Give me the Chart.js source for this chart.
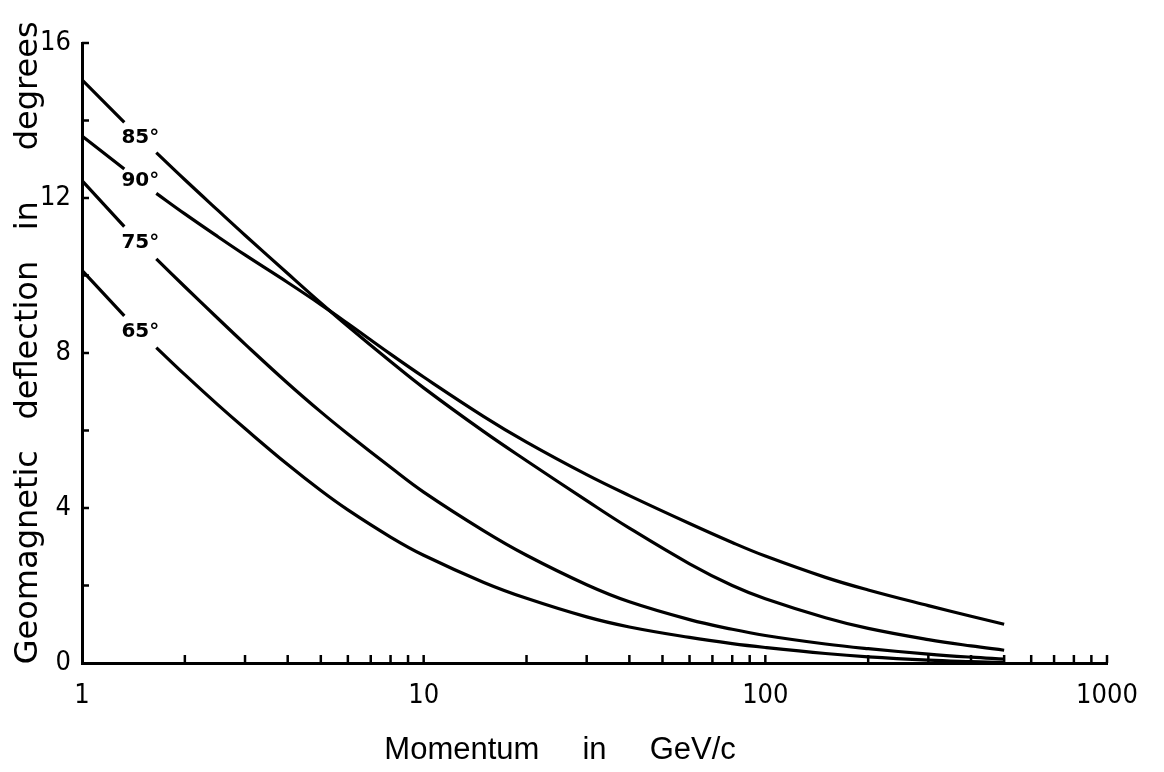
<!DOCTYPE html>
<html>
<head>
<meta charset="utf-8">
<script src="https://cdn.jsdelivr.net/npm/chart.js@4/dist/chart.umd.min.js"></script>
<style>
  html, body { margin: 0; padding: 0; background: #ffffff; }
  #wrap { width: 1164px; height: 772px; }
</style>
</head>
<body>
<div id="wrap"><canvas id="c" width="1164" height="772"></canvas></div>
<script>
// ---- data ----
const momentum = [1, 1.33, 1.5, 1.65, 2, 2.5, 3, 4, 5, 6, 8, 10, 15, 20, 30, 40, 60, 80, 100, 150, 200, 300, 400, 500];
const deflection85 = [15.05, 13.95, null, 13.17, 12.47, 11.68, 11.04, 10.05, 9.29, 8.69, 7.78, 7.10, 5.97, 5.22, 4.19, 3.48, 2.56, 2.0, 1.66, 1.17, 0.895, 0.605, 0.44, 0.33];
const deflection90 = [13.6, 12.75, null, 12.12, 11.59, 11.0, 10.53, 9.82, 9.25, 8.76, 7.97, 7.38, 6.36, 5.70, 4.86, 4.32, 3.6, 3.11, 2.76, 2.21, 1.885, 1.48, 1.205, 1.0];
const deflection75 = [12.45, 11.26, null, 10.43, 9.71, 8.89, 8.23, 7.22, 6.48, 5.91, 5.05, 4.41, 3.41, 2.78, 2.02, 1.58, 1.12, 0.87, 0.71, 0.49, 0.37, 0.23, 0.15, 0.10];
const deflection65 = [10.13, 8.96, null, 8.14, 7.44, 6.66, 6.05, 5.12, 4.45, 3.95, 3.25, 2.78, 2.08, 1.67, 1.19, 0.93, 0.66, 0.5, 0.4, 0.245, 0.16, 0.075, 0.035, 0.01];
const seriesLabels = ['85°', '90°', '75°', '65°'];
const xMajorTicks = [1, 10, 100, 1000];
const xMinorMultipliers = [2, 3, 4, 5, 6, 7, 8, 9];
const yTickLabels = [0, 4, 8, 12, 16];
const yTickStep = 2;
const xTitle = 'Momentum\u00a0\u00a0\u00a0\u00a0\u00a0in\u00a0\u00a0\u00a0\u00a0\u00a0GeV/c' + '\u00a0'.repeat(8);
const yTitle = '\u00a0\u00a0Geomagnetic\u00a0\u00a0\u00a0deflection\u00a0\u00a0\u00a0in\u00a0\u00a0\u00a0\u00a0\u00a0degrees';

// ---- tick values for the log axis ----
const xTickValues = [];
xMajorTicks.forEach((d, i) => {
  xTickValues.push(d);
  if (i < xMajorTicks.length - 1) xMinorMultipliers.forEach(m => xTickValues.push(d * m));
});

const allSeries = [deflection85, deflection90, deflection75, deflection65];
const datasets = allSeries.map((vals, i) => ({
  label: seriesLabels[i],
  data: momentum.map((p, j) => ({ x: p, y: vals[j] })),
  borderColor: '#000',
  borderWidth: 3.2,
  pointRadius: 0,
  fill: false,
  spanGaps: false,
  tension: 0.4
}));

const tickFont = { family: "'DejaVu Sans Condensed', 'Liberation Sans', sans-serif", size: 27 };

const innerTicks = {
  id: 'innerTicks',
  afterDraw(chart) {
    const ctx = chart.ctx;
    const xs = chart.scales.x, ys = chart.scales.y;
    const area = chart.chartArea;
    ctx.save();
    ctx.strokeStyle = '#000';
    ctx.lineWidth = 2.5;
    xTickValues.forEach(v => {
      if (v === 1) return;
      const px = xs.getPixelForValue(v);
      ctx.beginPath();
      ctx.moveTo(px, area.bottom);
      ctx.lineTo(px, area.bottom - 8);
      ctx.stroke();
    });
    for (let v = yTickStep; v <= 16; v += yTickStep) {
      const py = ys.getPixelForValue(v);
      ctx.beginPath();
      ctx.moveTo(area.left, py);
      ctx.lineTo(area.left + 7, py);
      ctx.stroke();
    }
    ctx.restore();
  }
};

const curveLabels = {
  id: 'curveLabels',
  afterDatasetsDraw(chart) {
    const ctx = chart.ctx;
    ctx.save();
    ctx.fillStyle = '#000';
    ctx.font = "bold 20px 'DejaVu Sans', sans-serif";
    ctx.textAlign = 'center';
    ctx.textBaseline = 'middle';
    chart.data.datasets.forEach((ds, i) => {
      const meta = chart.getDatasetMeta(i);
      const gap = ds.data.findIndex(d => d.y === null);
      if (gap < 1) return;
      const a = meta.data[gap - 1], b = meta.data[gap + 1];
      ctx.fillText(ds.label, (a.x + b.x) / 2, (a.y + b.y) / 2);
    });
    ctx.restore();
  }
};

new Chart(document.getElementById('c'), {
  type: 'line',
  data: { datasets },
  plugins: [innerTicks, curveLabels],
  options: {
    responsive: false,
    animation: false,
    devicePixelRatio: 1,
    layout: { padding: { top: 43, right: 57, left: 0, bottom: 0 } },
    plugins: { legend: { display: false }, tooltip: { enabled: false } },
    scales: {
      x: {
        type: 'logarithmic',
        min: 1,
        max: 1000,
        afterBuildTicks: s => { s.ticks = xTickValues.map(v => ({ value: v })); },
        afterFit: s => { s.height = 109; },
        grid: { display: false, drawTicks: false },
        border: { display: true, color: '#000', width: 3 },
        ticks: {
          autoSkip: false,
          maxRotation: 0,
          color: '#000',
          padding: 17,
          font: tickFont,
          callback: v => (xMajorTicks.includes(v) ? String(v) : '')
        },
        title: {
          display: true,
          text: xTitle,
          color: '#000',
          font: { family: "'Liberation Sans', Arial, sans-serif", size: 31 },
          padding: { top: 0, bottom: 3 }
        }
      },
      y: {
        type: 'linear',
        min: 0,
        max: 16,
        afterFit: s => { s.width = 82; },
        grid: { display: false, drawTicks: false },
        border: { display: true, color: '#000', width: 3 },
        ticks: {
          stepSize: yTickStep,
          color: '#000',
          padding: 11,
          font: tickFont,
          callback: v => (yTickLabels.includes(v) ? String(v) : '')
        },
        title: {
          display: true,
          text: yTitle,
          color: '#000',
          font: { family: "'DejaVu Sans', sans-serif", size: 32 },
          padding: { top: 9, bottom: 0 }
        }
      }
    }
  }
});
</script>
</body>
</html>
